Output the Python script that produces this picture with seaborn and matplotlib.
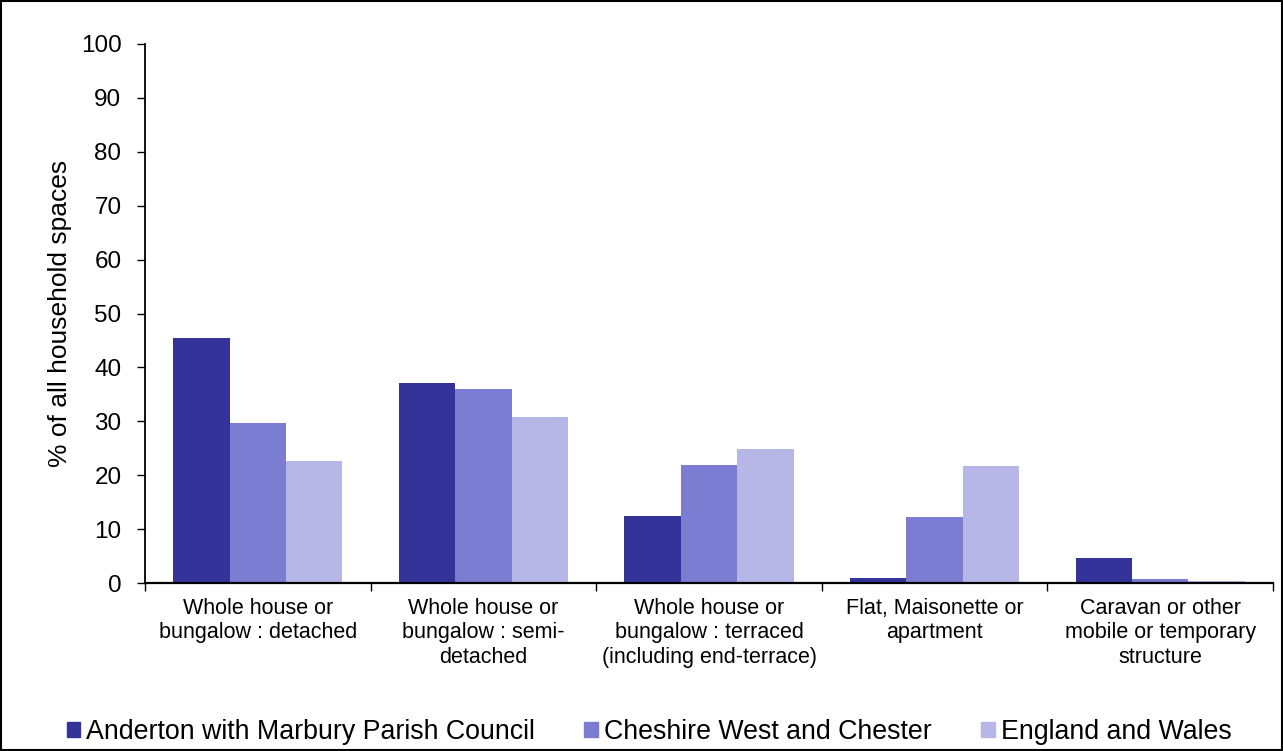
import pandas as pd
import seaborn as sns
import matplotlib.pyplot as plt
from matplotlib.patches import Rectangle

categories = ['Whole house or\nbungalow : detached',
              'Whole house or\nbungalow : semi-\ndetached',
              'Whole house or\nbungalow : terraced\n(including end-terrace)',
              'Flat, Maisonette or\napartment',
              'Caravan or other\nmobile or temporary\nstructure']
series = ['Anderton with Marbury Parish Council', 'Cheshire West and Chester', 'England and Wales']
anderton = [45.4, 37.1, 12.4, 0.9, 4.6]
cheshire = [29.6, 35.9, 21.8, 12.2, 0.7]
england = [22.6, 30.8, 24.8, 21.7, 0.4]
colours = ['#333399', '#7b7dd3', '#b6b7e6']

df = pd.DataFrame({'category': categories * 3,
                   'area': [s for s in series for _ in categories],
                   'value': anderton + cheshire + england})

sns.set_style('white')
plt.rcParams['font.family'] = ['Liberation Sans', 'DejaVu Sans']
plt.rcParams['text.color'] = 'black'
plt.rcParams['axes.labelcolor'] = 'black'
plt.rcParams['xtick.color'] = 'black'
plt.rcParams['ytick.color'] = 'black'

fig = plt.figure(figsize=(12.83, 7.51), dpi=100)
ax = fig.add_axes([145/1283, 1 - 583/751, 1128/1283, 539/751])

sns.barplot(data=df, x='category', y='value', hue='area', palette=colours,
            width=0.75, gap=0, saturation=1, edgecolor='none', ax=ax, legend=False)

ax.set_ylim(0, 100)
ax.set_xlim(-0.5, 4.5)
ax.set_yticks(range(0, 101, 10))
ax.tick_params(axis='y', labelsize=17.5, direction='out', length=6, width=1, left=True, pad=11)
ax.set_xticks(range(5))
ax.set_xticklabels(categories, fontsize=15.5, linespacing=1.2)
ax.tick_params(axis='x', which='major', length=0, pad=11)
ax.set_xticks([i + 0.5 for i in range(-1, 5)], minor=True)
ax.tick_params(axis='x', which='minor', direction='out', length=6, width=1, bottom=True)
ax.set_xlabel('')
ax.set_ylabel('% of all household spaces', fontsize=19, labelpad=6)
for s in ['top', 'right']:
    ax.spines[s].set_visible(False)
ax.spines['left'].set_color('black')
ax.spines['left'].set_linewidth(1.3)
ax.spines['bottom'].set_color('black')
ax.spines['bottom'].set_linewidth(1.6)

handles = [Rectangle((0, 0), 1, 1, color=c) for c in colours]
fig.legend(handles, series, loc='center', bbox_to_anchor=(649/1283, 1 - 732/751), ncol=3,
           frameon=False, fontsize=19.3, handlelength=0.52, handleheight=0.52,
           handletextpad=0.22, columnspacing=1.83)

fig.patches.append(Rectangle((0.0008, 0.0013), 0.9984, 0.9974, transform=fig.transFigure,
                             fill=False, edgecolor='black', linewidth=1.5))

fig.savefig('out.png', dpi=100)
